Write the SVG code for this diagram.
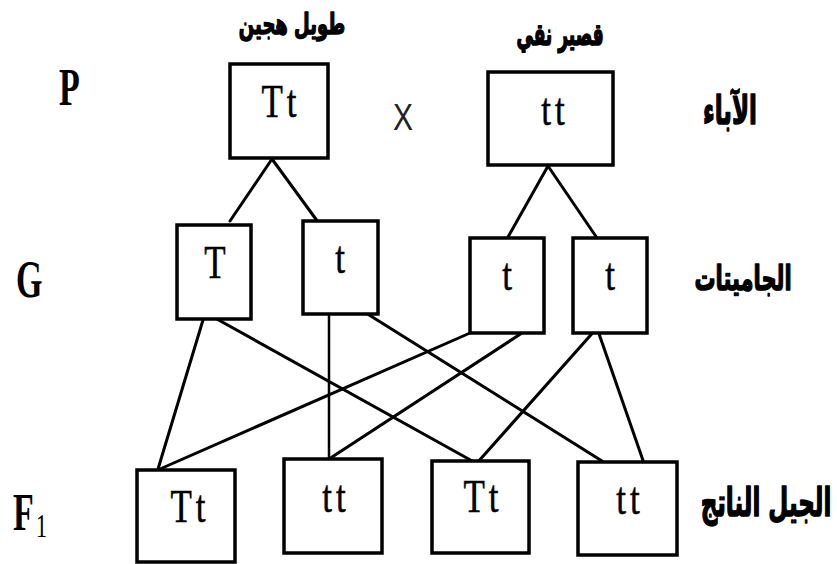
<svg xmlns="http://www.w3.org/2000/svg" width="837" height="564" viewBox="0 0 837 564">
  <style>
    .box { fill: #fff; stroke: #000; stroke-width: 3.5; }
    .gene { font-family: "Liberation Serif", "Times New Roman", serif; font-size: 35px; fill: #000; text-anchor: middle; letter-spacing: 4px; stroke: #000; stroke-width: 0.4; }
    .gen { font-family: "Liberation Serif", "Times New Roman", serif; font-weight: bold; font-size: 34px; fill: #000; }
    .ar { font-family: "DejaVu Sans", sans-serif; font-weight: bold; fill: #000; text-anchor: middle; stroke: #000; stroke-width: 0.9; stroke-linejoin: round; }
    .cross { font-family: "Liberation Sans", Arial, sans-serif; font-size: 30px; fill: #222; text-anchor: middle; }
    #connectors line { stroke: #000; stroke-width: 3; stroke-linecap: round; }
  </style>

  <rect width="837" height="564" fill="#fff"/>

  <!-- connectors (drawn first, boxes sit on top) -->
  <g id="connectors">
    <!-- parents to gametes -->
    <line x1="272" y1="159" x2="230" y2="221"/>
    <line x1="272" y1="159" x2="318" y2="222"/>
    <line x1="548" y1="166" x2="508" y2="237"/>
    <line x1="548" y1="166" x2="597" y2="238"/>
    <!-- gametes to offspring -->
    <line x1="203" y1="320" x2="158" y2="469"/>
    <line x1="215" y1="318" x2="474" y2="462"/>
    <line x1="329" y1="315" x2="329" y2="459" style="stroke-width:2.5"/>
    <line x1="358" y1="308" x2="602" y2="461"/>
    <line x1="470" y1="333" x2="160" y2="469"/>
    <line x1="522" y1="333" x2="329" y2="459"/>
    <line x1="597" y1="328" x2="477" y2="463"/>
    <line x1="597" y1="328" x2="646" y2="469"/>
  </g>

  <!-- generation labels -->
  <g id="label-P"><text class="gen" transform="translate(59,105) scale(1,1.55)">P</text></g>
  <g id="label-G"><text class="gen" transform="translate(16,297) scale(1,1.55)">G</text></g>
  <g id="label-F1">
    <text class="gen" transform="translate(13,530) scale(1,1.55)">F</text>
    <text transform="translate(36,537) scale(1,1.5)" style="font-family:'Liberation Serif',serif;font-size:22px">1</text>
  </g>

  <!-- Arabic headings -->
  <g id="title-tall"><text class="ar" transform="translate(292,34) scale(1,1.6)" font-size="18">طويل هجين</text></g>
  <g id="title-short"><text class="ar" transform="translate(560,45) scale(1,1.8)" font-size="17">قصير نقي</text></g>
  <g id="row-parents"><text class="ar" transform="translate(730,124) scale(1,1.7)" font-size="23">الآباء</text></g>
  <g id="row-gametes"><text class="ar" transform="translate(743,290) scale(1,1.6)" font-size="21">الجاميتات</text></g>
  <g id="row-offspring"><text class="ar" transform="translate(766,516) scale(1,1.7)" font-size="23">الجيل الناتج</text></g>

  <!-- cross sign -->
  <g id="cross"><text class="cross" transform="translate(403,130) scale(1,1.25)">X</text></g>

  <!-- parents -->
  <g id="parent-Tt">
    <rect class="box" x="230" y="64" width="98" height="94"/>
    <text class="gene" transform="translate(281,117) scale(1,1.3)">Tt</text>
  </g>
  <g id="parent-tt">
    <rect class="box" x="488" y="72" width="125" height="93"/>
    <text class="gene" transform="translate(555,125) scale(1,1.3)">tt</text>
  </g>

  <!-- gametes -->
  <g id="gamete-T">
    <rect class="box" x="177" y="225" width="74" height="94"/>
    <text class="gene" transform="translate(217,278) scale(1,1.3)">T</text>
  </g>
  <g id="gamete-t1">
    <rect class="box" x="303" y="221" width="75" height="93"/>
    <text class="gene" transform="translate(342,273) scale(1,1.3)">t</text>
  </g>
  <g id="gamete-t2">
    <rect class="box" x="470" y="238" width="74" height="95"/>
    <text class="gene" transform="translate(509,290) scale(1,1.3)">t</text>
  </g>
  <g id="gamete-t3">
    <rect class="box" x="573" y="238" width="74" height="95"/>
    <text class="gene" transform="translate(612,290) scale(1,1.3)">t</text>
  </g>

  <!-- offspring -->
  <g id="child-1">
    <rect class="box" x="137" y="470" width="98" height="92"/>
    <text class="gene" transform="translate(190,522) scale(1,1.3)">Tt</text>
  </g>
  <g id="child-2">
    <rect class="box" x="284" y="459" width="98" height="94"/>
    <text class="gene" transform="translate(336,512) scale(1,1.3)">tt</text>
  </g>
  <g id="child-3">
    <rect class="box" x="432" y="461" width="97" height="92"/>
    <text class="gene" transform="translate(483,512) scale(1,1.3)">Tt</text>
  </g>
  <g id="child-4">
    <rect class="box" x="578" y="462" width="99" height="93"/>
    <text class="gene" transform="translate(630,514) scale(1,1.3)">tt</text>
  </g>
</svg>
